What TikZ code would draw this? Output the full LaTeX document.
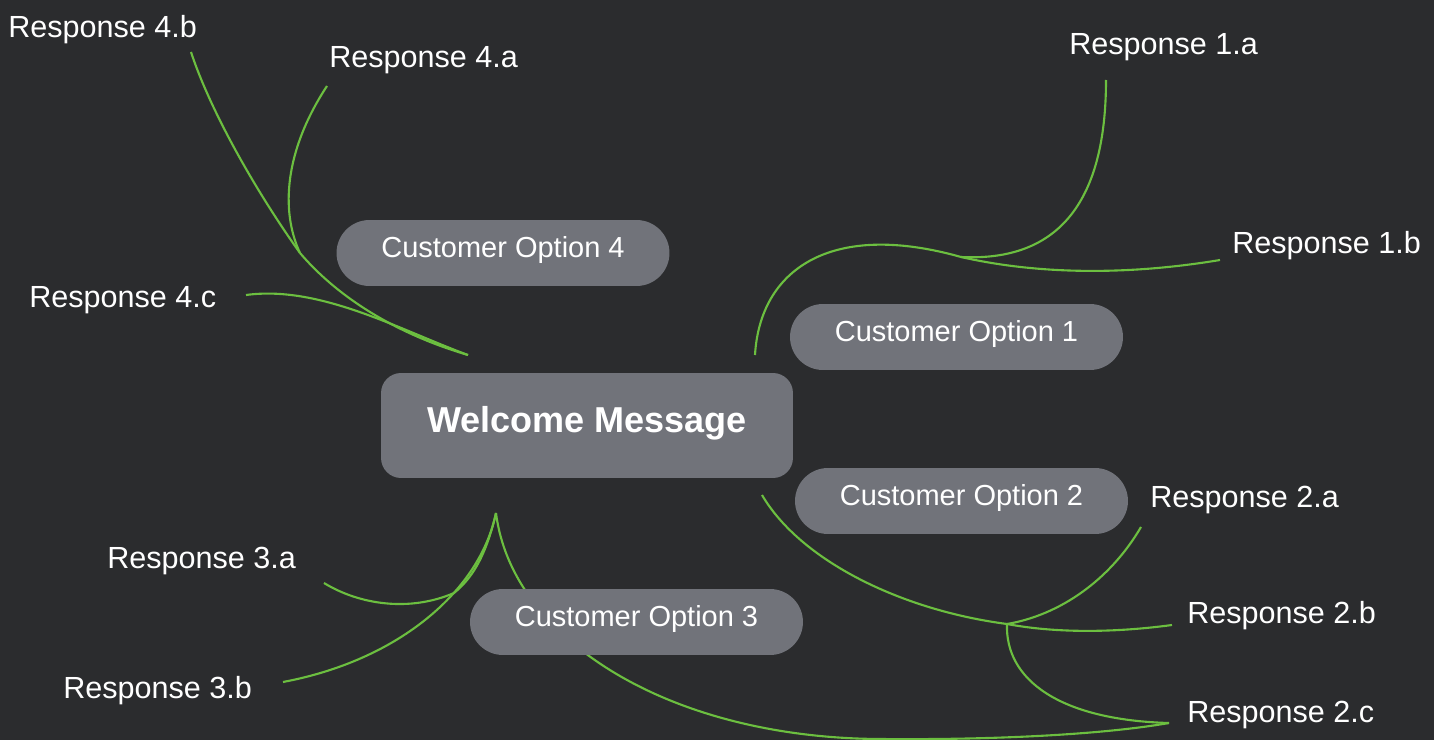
\documentclass[tikz,border=0pt]{standalone}
\usepackage{fontspec}
\setmainfont{Liberation Sans}
\usetikzlibrary{calc}

\definecolor{bg}{HTML}{2B2C2E}
\definecolor{pill}{HTML}{71737A}
\definecolor{leaf}{HTML}{6CBF40}

\tikzset{
  link/.style={draw=leaf, line width=1.2pt},
  option/.style={fill=pill, rounded corners=0.66cm, minimum width=6.66cm, minimum height=1.32cm,
    inner sep=0pt, text=white, font=\fontsize{16.5}{18}\selectfont, text height=11.8pt, text depth=6.2pt},
  welcome/.style={fill=pill, rounded corners=0.4cm, minimum width=8.24cm, minimum height=2.1cm,
    inner sep=0pt, text=white, font=\bfseries\fontsize{20.5}{24}\selectfont, text height=14.6pt, text depth=6.9pt},
  resp/.style={anchor=base west, inner sep=0pt, text=white, font=\fontsize{17.4}{20}\selectfont},
}

\begin{document}
\begin{tikzpicture}[x=0.02cm, y=-0.02cm]
\useasboundingbox (0,0) rectangle (1434,740);
\fill[bg] (0,0) rectangle (1434,740);

% ends of the links
\coordinate (w1) at (755,355);
\coordinate (w2) at (762,495);
\coordinate (w3) at (496,513);
\coordinate (w4) at (468,355);
\coordinate (j1) at (961,257);
\coordinate (j2) at (1007,624);
\coordinate (j3) at (454,593);
\coordinate (j4) at (300,253);
\coordinate (b3) at (880,739);

\coordinate (e1a) at (1106,80);
\coordinate (e1b) at (1220,260);
\coordinate (e2a) at (1141,527);
\coordinate (e2b) at (1172,625);
\coordinate (e2c) at (1169,723);
\coordinate (e3a) at (324,583);
\coordinate (e3b) at (283,682);
\coordinate (e4a) at (327,86);
\coordinate (e4b) at (191,52);
\coordinate (e4c) at (246,295);

% branch 1
\draw[link] (w1) .. controls (760,270) and (830,220) .. (j1);
\draw[link] (j1) .. controls (1060,262) and (1106,200) .. (e1a);
\draw[link] (j1) .. controls (1040,275) and (1130,275) .. (e1b);

% branch 2
\draw[link] (w2) .. controls (800,560) and (900,610) .. (j2);
\draw[link] (j2) .. controls (1060,615) and (1110,580) .. (e2a);
\draw[link] (j2) .. controls (1060,634) and (1120,632) .. (e2b);
\draw[link] (j2) .. controls (1005,680) and (1060,720) .. (e2c);

% branch 3
\draw[link] (w3) .. controls (485,560) and (470,580) .. (j3);
\draw[link] (j3) .. controls (410,612) and (360,605) .. (e3a);
\draw[link] (w3) .. controls (480,590) and (400,660) .. (e3b);
\draw[link] (w3) .. controls (512,640) and (670,738) .. (b3)
  .. controls (990,740) and (1100,735) .. (e2c);

% branch 4
\draw[link] (w4) .. controls (400,335) and (340,300) .. (j4);
\draw[link] (j4) .. controls (255,190) and (210,110) .. (e4b);
\draw[link] (j4) .. controls (280,210) and (285,150) .. (e4a);
\draw[link] (w4) .. controls (400,330) and (320,285) .. (e4c);

\node (wm) [welcome] at (587,425.5) {Welcome Message};
\node (o1) [option] at (956.5,337) {Customer Option 1};
\node (o2) [option] at (961.5,501) {Customer Option 2};
\node (o3) [option] at (636.5,622) {Customer Option 3};
\node (o4) [option] at (503,253) {Customer Option 4};

\node (r1a) [resp] at (1069,55) {Response 1.a};
\node (r1b) [resp] at (1232,253) {Response 1.b};
\node (r2a) [resp] at (1150,507) {Response 2.a};
\node (r2b) [resp] at (1187,623) {Response 2.b};
\node (r2c) [resp] at (1187,722) {Response 2.c};
\node (r3a) [resp] at (107,568) {Response 3.a};
\node (r3b) [resp] at (63,698) {Response 3.b};
\node (r4a) [resp] at (329,68) {Response 4.a};
\node (r4b) [resp] at (8,38) {Response 4.b};
\node (r4c) [resp] at (29,307) {Response 4.c};

\end{tikzpicture}
\end{document}
